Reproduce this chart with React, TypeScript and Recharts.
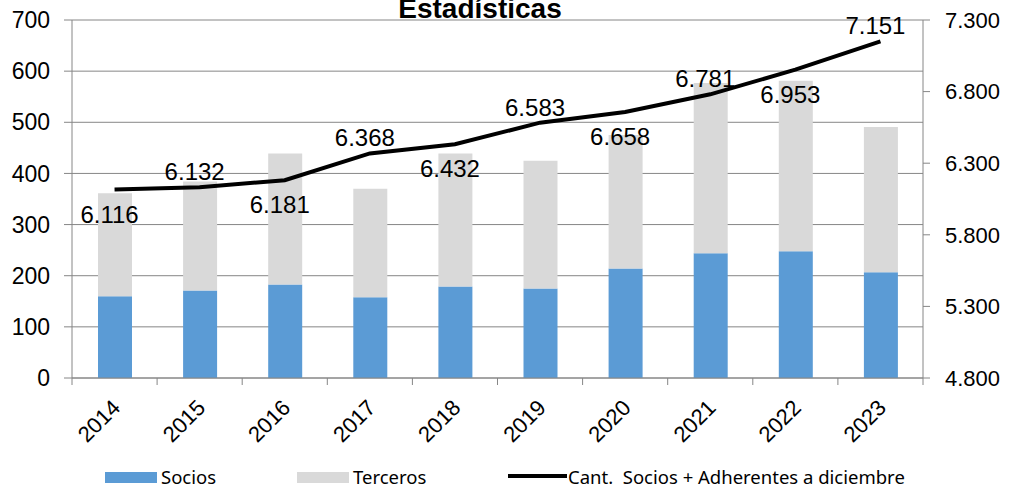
import React from 'react';
import { ComposedChart, Bar, Line, XAxis, YAxis, CartesianGrid, LabelList } from 'recharts';

// values
const years = ['2014', '2015', '2016', '2017', '2018', '2019', '2020', '2021', '2022', '2023'];
const socios = [160, 171, 183, 158, 179, 175, 214, 244, 248, 207];
const terceros = [201, 213, 256, 212, 260, 250, 261, 333, 333, 284];
const cantidad = [6116, 6132, 6181, 6368, 6432, 6583, 6658, 6781, 6953, 7151];
const leftTicks = [0, 100, 200, 300, 400, 500, 600, 700];
const rightTicks = [4800, 5300, 5800, 6300, 6800, 7300];

const data = years.map((year, i) => ({
  year,
  socios: socios[i],
  terceros: terceros[i],
  cantidad: cantidad[i],
}));

const W = 1009;
const H = 488;
const AXIS = '#868686';
const BLUE = '#5B9BD5';
const GRAY = '#D9D9D9';
const FONT = '"Liberation Sans", Arial, sans-serif';
const LEGEND_FONT = '"Noto Sans", "Open Sans", sans-serif';
const BAND = 851 / years.length;

const fmt = (n: number) => String(n).replace(/\B(?=(\d{3})+(?!\d))/g, '.');

function YearTick(props: any) {
  const { x, y, payload, index } = props;
  return (
    <g transform={`translate(${x},${y})`}>
      <line x1={-BAND / 2} x2={-BAND / 2} y1={0} y2={7} stroke={AXIS} />
      {index === years.length - 1 && (
        <line x1={BAND / 2} x2={BAND / 2} y1={0} y2={7} stroke={AXIS} />
      )}
      <text
        x={7}
        y={31}
        transform="rotate(-45 7 31)"
        textAnchor="end"
        fontSize={22}
        fontFamily={FONT}
        fill="#000"
      >
        {payload.value}
      </text>
    </g>
  );
}

// labels alternate below / above the line, as in the original
function PointLabel(props: any) {
  const { x, y, value, index } = props;
  const below = index % 2 === 0;
  return (
    <text
      x={x - 5}
      y={y + (below ? 33 : -7)}
      textAnchor="middle"
      fontSize={24}
      fontFamily={FONT}
      fill="#000"
    >
      {fmt(Number(value))}
    </text>
  );
}

export default function App() {
  return (
    <div style={{ position: 'absolute', left: 0, top: 0, width: W, height: H, background: '#fff' }}>
      <ComposedChart width={W} height={H} data={data} margin={{ top: 20, right: 0, bottom: 40, left: 0 }}>
        <CartesianGrid yAxisId="left" vertical={false} stroke={AXIS} />
        <XAxis
          dataKey="year"
          height={70}
          stroke={AXIS}
          tickLine={false}
          tickSize={0}
          tickMargin={0}
          interval={0}
          tick={<YearTick />}
        />
        <YAxis
          yAxisId="left"
          width={72}
          domain={[0, 700]}
          ticks={leftTicks}
          stroke={AXIS}
          tickSize={8}
          tickMargin={14}
          tick={{ fontSize: 23, fontFamily: FONT, fill: '#000' }}
        />
        <YAxis
          yAxisId="right"
          orientation="right"
          width={86}
          domain={[4800, 7300]}
          ticks={rightTicks}
          stroke={AXIS}
          tickSize={7}
          tickMargin={15}
          tickFormatter={(n: number) => fmt(n)}
          tick={{ fontSize: 22, fontFamily: FONT, fill: '#000' }}
        />
        <Bar yAxisId="left" dataKey="socios" stackId="s" fill={BLUE} barSize={34} isAnimationActive={false} />
        <Bar yAxisId="left" dataKey="terceros" stackId="s" fill={GRAY} barSize={34} isAnimationActive={false} />
        <Line
          yAxisId="right"
          type="linear"
          dataKey="cantidad"
          stroke="#000"
          strokeWidth={4}
          dot={false}
          isAnimationActive={false}
        >
          <LabelList dataKey="cantidad" content={<PointLabel />} />
        </Line>
      </ComposedChart>
      <svg width={W} height={H} style={{ position: 'absolute', left: 0, top: 0, pointerEvents: 'none' }}>
        <text x={480} y={18} textAnchor="middle" fontSize={28} fontWeight="bold" fontFamily={FONT} fill="#000">
          Estadísticas
        </text>
        <rect x={105} y={472} width={52} height={11} fill={BLUE} />
        <text x={161} y={484} fontSize={18.5} fontFamily={LEGEND_FONT} fill="#000">Socios</text>
        <rect x={297} y={472} width={52} height={11} fill={GRAY} />
        <text x={353} y={484} fontSize={18.5} fontFamily={LEGEND_FONT} fill="#000">Terceros</text>
        <line x1={508} x2={567} y1={476} y2={476} stroke="#000" strokeWidth={4} />
        <text x={568} y={484} fontSize={18.5} fontFamily={LEGEND_FONT} fill="#000" style={{ whiteSpace: 'pre' }}>
          {'Cant.  Socios + Adherentes a diciembre'}
        </text>
      </svg>
    </div>
  );
}
